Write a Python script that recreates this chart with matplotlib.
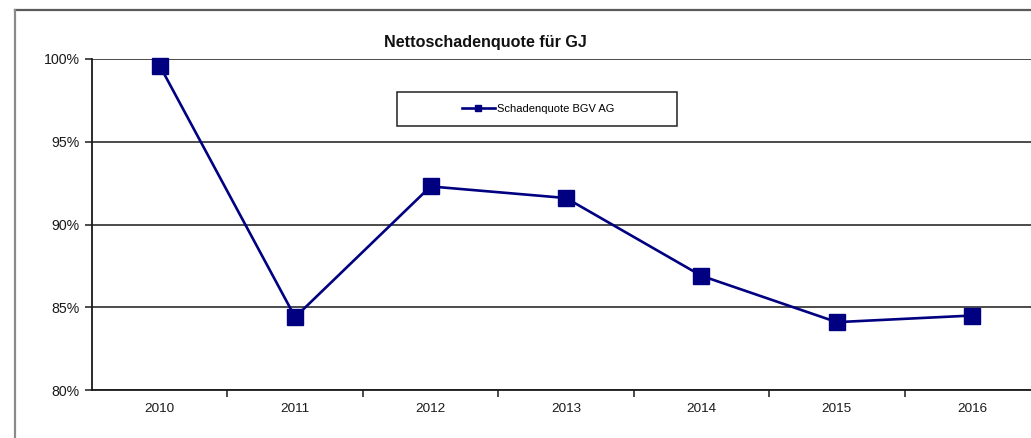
import matplotlib
matplotlib.use("Agg")
import matplotlib.pyplot as plt
from matplotlib.lines import Line2D
from matplotlib.patches import Rectangle
from matplotlib.ticker import FuncFormatter, FixedLocator

plt.rcParams['font.family'] = ['Liberation Sans', 'DejaVu Sans']

years = ["2010", "2011", "2012", "2013", "2014", "2015", "2016"]
quote = [99.6, 84.4, 92.3, 91.6, 86.9, 84.1, 84.5]
series_name = "Schadenquote BGV AG"
title = "Nettoschadenquote für GJ"
yticks = [80, 85, 90, 95, 100]

W, H = 1031, 438
fig = plt.figure(figsize=(W / 100, H / 100), dpi=100)
fig.patch.set_facecolor("white")

# outer chart-area frame (top and left edges visible)
fig.add_artist(Line2D([15 / W, 1.0], [1 - 10 / H, 1 - 10 / H], color="#5a5a5a", lw=1.6,
                      transform=fig.transFigure))
fig.add_artist(Line2D([15 / W, 15 / W], [0, 1 - 10 / H], color="#8a8a8a", lw=1.6,
                      transform=fig.transFigure))

left, right, top, bottom = 92, 1040, 59, 390
ax = fig.add_axes([left / W, 1 - bottom / H, (right - left) / W, (bottom - top) / H])
x = list(range(len(years)))
ax.plot(x, quote, color="#000080", lw=1.9, marker="s", markersize=11,
        markerfacecolor="#000080", markeredgecolor="#000080", label=series_name,
        clip_on=False, zorder=3)

ax.set_xlim(-0.5, len(years) - 0.5)
ax.set_ylim(80, 100)
ax.set_yticks(yticks)
ax.yaxis.set_major_formatter(FuncFormatter(lambda v, p: f"{v:.0f}%"))
ax.grid(axis="y", color="#1a1a1a", lw=1.1)
ax.set_axisbelow(True)

ax.set_xticks(x)
ax.set_xticklabels(years)
ax.xaxis.set_minor_locator(FixedLocator([i + 0.5 for i in x[:-1]]))
ax.tick_params(axis="x", which="major", length=0, pad=9, labelsize=9.7, labelcolor="#1a1a1a")
ax.tick_params(axis="x", which="minor", length=5, width=1.1, direction="out", color="#1a1a1a")
ax.tick_params(axis="y", which="major", length=5, width=1.1, direction="out", pad=4,
               labelsize=10.2, labelcolor="#1a1a1a", color="#1a1a1a")

for s in ("top", "right"):
    ax.spines[s].set_visible(False)
for s in ("left", "bottom"):
    ax.spines[s].set_color("#1a1a1a")
    ax.spines[s].set_linewidth(1.3)

fig.text(485 / W, 1 - 42 / H, title, ha="center", va="center", fontsize=11.6,
         fontweight="bold", color="#111111")

# legend box
fig.add_artist(Rectangle((397 / W, 1 - 126 / H), 280 / W, 34 / H, transform=fig.transFigure,
                         facecolor="white", edgecolor="#222222", lw=1.1, zorder=4))
leg = fig.legend(loc="center", bbox_to_anchor=(538 / W, 1 - 109 / H), frameon=False,
                 fontsize=8, handlelength=3.0, handletextpad=0.2, markerscale=0.45)
leg.set_zorder(5)

fig.savefig("out.png", dpi=100, facecolor="white")
